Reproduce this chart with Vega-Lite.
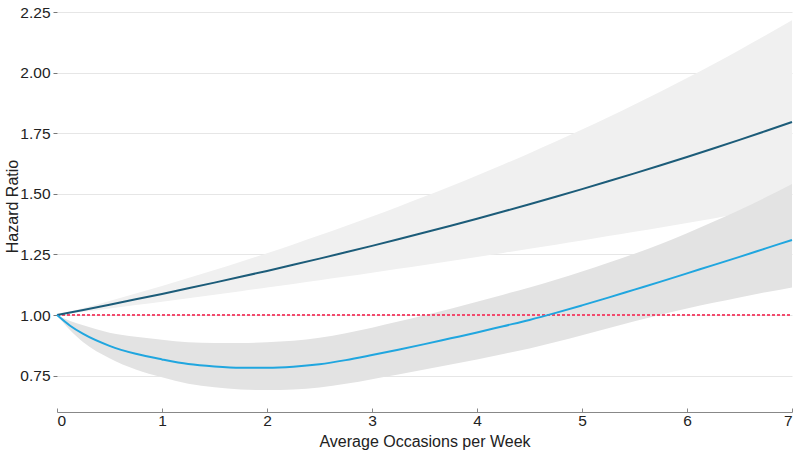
{
  "$schema": "https://vega.github.io/schema/vega-lite/v6.json",
  "width": 735,
  "height": 412,
  "autosize": {"type": "none"},
  "padding": {"left": 57, "top": 0, "right": 8, "bottom": 38},
  "background": "white",
  "config": {
    "view": {"stroke": null},
    "font": "Liberation Sans",
    "axis": {"labelFont": "Liberation Sans", "titleFont": "Liberation Sans", "labelFontSize": 15.5, "titleFontSize": 16, "titleFontWeight": "normal", "labelColor": "#222", "titleColor": "#222"}
  },
  "data": {"values": [
    {"x": 0, "hr1": 1, "lo1": 1, "hi1": 1, "hr2": 1, "lo2": 1, "hi2": 1},
    {"x": 0.125, "hr1": 1.0105, "lo1": 1.0067, "hi1": 1.0143, "hr2": 0.956, "lo2": 0.9371, "hi2": 0.9753},
    {"x": 0.25, "hr1": 1.0211, "lo1": 1.0135, "hi1": 1.0288, "hr2": 0.922, "lo2": 0.8877, "hi2": 0.9577},
    {"x": 0.5, "hr1": 1.0427, "lo1": 1.0272, "hi1": 1.0585, "hr2": 0.873, "lo2": 0.8222, "hi2": 0.927},
    {"x": 0.75, "hr1": 1.0648, "lo1": 1.0411, "hi1": 1.089, "hr2": 0.84, "lo2": 0.7754, "hi2": 0.91},
    {"x": 1, "hr1": 1.0873, "lo1": 1.0552, "hi1": 1.1204, "hr2": 0.817, "lo2": 0.7429, "hi2": 0.8985},
    {"x": 1.25, "hr1": 1.1103, "lo1": 1.0694, "hi1": 1.1528, "hr2": 0.798, "lo2": 0.717, "hi2": 0.8881},
    {"x": 1.5, "hr1": 1.1338, "lo1": 1.0839, "hi1": 1.186, "hr2": 0.788, "lo2": 0.7017, "hi2": 0.8849},
    {"x": 1.75, "hr1": 1.1577, "lo1": 1.0986, "hi1": 1.2202, "hr2": 0.783, "lo2": 0.693, "hi2": 0.8846},
    {"x": 2, "hr1": 1.1822, "lo1": 1.1134, "hi1": 1.2553, "hr2": 0.783, "lo2": 0.6903, "hi2": 0.8882},
    {"x": 2.25, "hr1": 1.2072, "lo1": 1.1284, "hi1": 1.2915, "hr2": 0.787, "lo2": 0.6932, "hi2": 0.8936},
    {"x": 2.5, "hr1": 1.2328, "lo1": 1.1437, "hi1": 1.3288, "hr2": 0.797, "lo2": 0.7012, "hi2": 0.9059},
    {"x": 2.75, "hr1": 1.2588, "lo1": 1.1591, "hi1": 1.3671, "hr2": 0.814, "lo2": 0.7162, "hi2": 0.9252},
    {"x": 3, "hr1": 1.2854, "lo1": 1.1748, "hi1": 1.4065, "hr2": 0.835, "lo2": 0.7354, "hi2": 0.9481},
    {"x": 3.25, "hr1": 1.3126, "lo1": 1.1907, "hi1": 1.4471, "hr2": 0.857, "lo2": 0.7548, "hi2": 0.973},
    {"x": 3.5, "hr1": 1.3404, "lo1": 1.2068, "hi1": 1.4888, "hr2": 0.88, "lo2": 0.7751, "hi2": 0.9992},
    {"x": 3.75, "hr1": 1.3687, "lo1": 1.2231, "hi1": 1.5317, "hr2": 0.904, "lo2": 0.7962, "hi2": 1.0264},
    {"x": 4, "hr1": 1.3977, "lo1": 1.2396, "hi1": 1.5759, "hr2": 0.928, "lo2": 0.8165, "hi2": 1.0548},
    {"x": 4.25, "hr1": 1.4272, "lo1": 1.2564, "hi1": 1.6213, "hr2": 0.954, "lo2": 0.8393, "hi2": 1.0843},
    {"x": 4.5, "hr1": 1.4574, "lo1": 1.2734, "hi1": 1.6681, "hr2": 0.98, "lo2": 0.8622, "hi2": 1.1139},
    {"x": 4.75, "hr1": 1.4882, "lo1": 1.2906, "hi1": 1.7162, "hr2": 1.009, "lo2": 0.8887, "hi2": 1.1456},
    {"x": 5, "hr1": 1.5197, "lo1": 1.308, "hi1": 1.7657, "hr2": 1.04, "lo2": 0.9169, "hi2": 1.1797},
    {"x": 5.25, "hr1": 1.5518, "lo1": 1.3257, "hi1": 1.8166, "hr2": 1.072, "lo2": 0.9451, "hi2": 1.216},
    {"x": 5.5, "hr1": 1.5847, "lo1": 1.3436, "hi1": 1.869, "hr2": 1.105, "lo2": 0.9742, "hi2": 1.2534},
    {"x": 5.75, "hr1": 1.6182, "lo1": 1.3618, "hi1": 1.9228, "hr2": 1.138, "lo2": 1.0012, "hi2": 1.2935},
    {"x": 6, "hr1": 1.6524, "lo1": 1.3802, "hi1": 1.9782, "hr2": 1.172, "lo2": 1.0271, "hi2": 1.3374},
    {"x": 6.25, "hr1": 1.6873, "lo1": 1.3988, "hi1": 2.0352, "hr2": 1.206, "lo2": 1.0505, "hi2": 1.3845},
    {"x": 6.5, "hr1": 1.723, "lo1": 1.4177, "hi1": 2.094, "hr2": 1.24, "lo2": 1.0727, "hi2": 1.4334},
    {"x": 6.75, "hr1": 1.7594, "lo1": 1.4369, "hi1": 2.1542, "hr2": 1.275, "lo2": 1.0941, "hi2": 1.4858},
    {"x": 7, "hr1": 1.7967, "lo1": 1.4563, "hi1": 2.2164, "hr2": 1.31, "lo2": 1.114, "hi2": 1.5404}
  ]},
  "encoding": {
    "x": {"field": "x", "type": "quantitative", "scale": {"domain": [0, 7], "nice": false}, "axis": {"title": "Average Occasions per Week", "values": [0,1,2,3,4,5,6,7], "format": "d", "grid": false, "domainColor": "#888", "tickColor": "#888", "tickSize": -4, "labelPadding": 5, "titleY": 29, "titleBaseline": "middle"}}
  },
  "layer": [
    {"mark": {"type": "area", "color": "#f0f0f0", "interpolate": "monotone"}, "encoding": {"y": {"field": "lo1", "type": "quantitative", "scale": {"domain": [0.6, 2.3], "nice": false, "zero": false}, "axis": {"title": "Hazard Ratio", "values": [0.75, 1, 1.25, 1.5, 1.75, 2, 2.25], "format": ".2f", "domain": false, "gridColor": "#e6e6e6", "tickColor": "#777", "tickSize": 4, "labelPadding": 3, "titleX": -45, "titleY": 206, "titleAlign": "center", "titleBaseline": "middle", "titleAngle": -90}}, "y2": {"field": "hi1"}}},
    {"mark": {"type": "area", "color": "#e3e3e3", "interpolate": "monotone"}, "encoding": {"y": {"field": "lo2", "type": "quantitative"}, "y2": {"field": "hi2"}}},
    {"mark": {"type": "rule", "color": "#f24d6e", "strokeWidth": 1, "strokeDash": [3, 2]}, "encoding": {"y": {"datum": 1, "type": "quantitative"}, "x": {"datum": 0}, "x2": {"datum": 7}}},
    {"mark": {"type": "line", "color": "#1c5c79", "strokeWidth": 2, "interpolate": "monotone"}, "encoding": {"y": {"field": "hr1", "type": "quantitative"}}},
    {"mark": {"type": "line", "color": "#20a6df", "strokeWidth": 2, "interpolate": "monotone"}, "encoding": {"y": {"field": "hr2", "type": "quantitative"}}}
  ]
}
